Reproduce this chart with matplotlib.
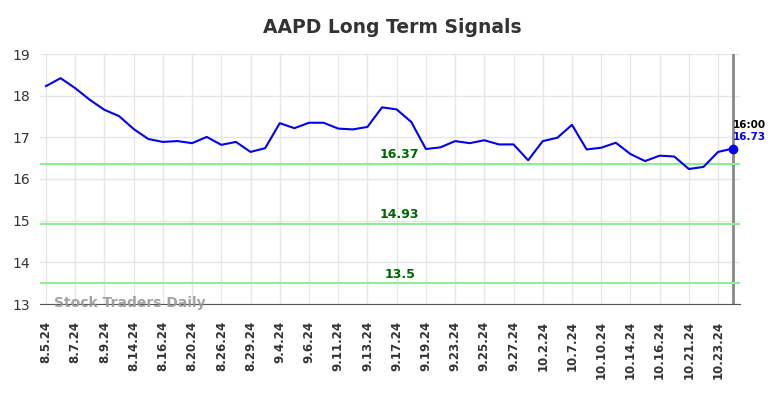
import matplotlib

matplotlib.use("Agg")

import matplotlib.pyplot as plt

# dane
tick_labels = ["8.5.24", "8.7.24", "8.9.24", "8.14.24", "8.16.24", "8.20.24", "8.26.24", "8.29.24",
               "9.4.24", "9.6.24", "9.11.24", "9.13.24", "9.17.24", "9.19.24", "9.23.24", "9.25.24",
               "9.27.24", "10.2.24", "10.7.24", "10.10.24", "10.14.24", "10.16.24", "10.21.24", "10.23.24"]

prices = [18.23, 18.42, 18.18, 17.90, 17.66, 17.51, 17.20, 16.96, 16.89, 16.91,
          16.86, 17.01, 16.82, 16.89, 16.65, 16.74, 17.34, 17.22, 17.35, 17.35,
          17.21, 17.19, 17.25, 17.72, 17.67, 17.37, 16.72, 16.76, 16.91, 16.86,
          16.93, 16.83, 16.83, 16.45, 16.91, 16.99, 17.30, 16.71, 16.75, 16.87,
          16.60, 16.43, 16.56, 16.54, 16.24, 16.29, 16.65, 16.73]

levels = [16.37, 14.93, 13.5]
last_time = "16:00"

x = list(range(len(prices)))

fig = plt.figure(figsize=(7.84, 3.98), dpi=100)
ax = fig.add_axes([40 / 784, 1 - 304 / 398, 700 / 784, 250 / 398])

ax.plot(x, prices, color="#0000ee", linewidth=1.5, zorder=3)
ax.scatter([x[-1]], [prices[-1]], color="#0000ee", s=36, zorder=4)
ax.axvline(x[-1], color="#888888", linewidth=2, zorder=2)

for lv in levels:
    ax.axhline(lv, color="#90ee90", linewidth=1.5, zorder=2)
    ax.text(24.2, lv + 0.06, f"{lv:g}", ha="center", va="bottom", fontsize=9,
            fontweight="bold", color="#006400")

ax.text(x[-1], prices[-1] + 0.45, last_time, ha="left", va="bottom", fontsize=7.5,
        fontweight="bold", color="black")
ax.text(x[-1], prices[-1] + 0.15, f"{prices[-1]:.2f}", ha="left", va="bottom", fontsize=7.5,
        fontweight="bold", color="#0000ee")

ax.text(0.55, 13.02, "Stock Traders Daily", ha="left", va="center", fontsize=10,
        fontweight="bold", color="#999999", alpha=0.9)

ax.set_xlim(-0.41, 47.5)
ax.set_ylim(13, 19)
ax.set_xticks(x[::2])
ax.set_xticklabels(tick_labels, rotation=90, fontsize=8.5, fontweight="bold", color="#333333")
ax.set_yticks([13, 14, 15, 16, 17, 18, 19])
for lab in ax.get_yticklabels():
    lab.set_fontsize(10)
    lab.set_color("#333333")
ax.tick_params(axis="x", length=0, pad=12)
ax.tick_params(axis="y", length=0, pad=7)

ax.grid(True, color="#e6e6e6", linewidth=1)
ax.set_axisbelow(True)
for side in ["left", "right", "top"]:
    ax.spines[side].set_visible(False)
ax.spines["bottom"].set_color("#555555")

fig.text(0.5, 0.932, "AAPD Long Term Signals", ha="center", va="center", fontsize=13.5,
         fontweight="bold", color="#333333")

plt.savefig("out.png", dpi=100)
